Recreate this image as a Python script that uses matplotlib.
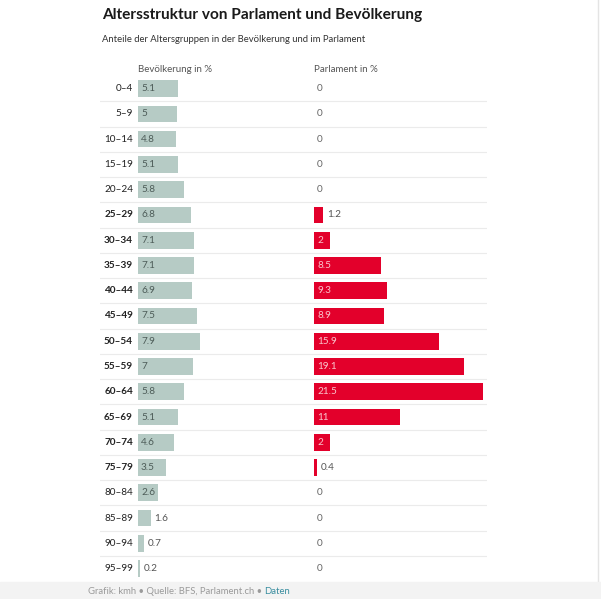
import matplotlib
matplotlib.use('Agg')
import matplotlib.pyplot as plt
from matplotlib.patches import Rectangle

plt.rcParams['font.family'] = ['Lato', 'DejaVu Sans']

# data
ages = ['0–4', '5–9', '10–14', '15–19', '20–24', '25–29', '30–34', '35–39',
        '40–44', '45–49', '50–54', '55–59', '60–64', '65–69', '70–74', '75–79',
        '80–84', '85–89', '90–94', '95–99']
bevoelkerung = [5.1, 5, 4.8, 5.1, 5.8, 6.8, 7.1, 7.1, 6.9, 7.5, 7.9, 7, 5.8,
                5.1, 4.6, 3.5, 2.6, 1.6, 0.7, 0.2]
parlament = [0, 0, 0, 0, 0, 1.2, 2, 8.5, 9.3, 8.9, 15.9, 19.1, 21.5, 11, 2,
             0.4, 0, 0, 0, 0]

W, H = 601, 599
SCALE = 7.86          # px per percent
ROW = 25.26           # px per row
TOP, N = 76, len(ages)

fig = plt.figure(figsize=(W / 100, H / 100), dpi=100)


def rect(x0, y0, w, h):
    return [x0 / W, 1 - (y0 + h) / H, w / W, h / H]


# footer band + right edge line (behind everything)
fig.patches.append(Rectangle((0, 0), 1, 17 / H, transform=fig.transFigure,
                             color='#f3f3f3', zorder=-5))
fig.lines.append(plt.Line2D([598 / W, 598 / W], [0, 1], transform=fig.transFigure,
                            color='#e4e4e4', lw=1, zorder=-5))

# row separators
grid_ax = fig.add_axes(rect(100, TOP, 387, ROW * N))
grid_ax.set_xlim(0, 1)
grid_ax.set_ylim(N - 0.5, -0.5)
grid_ax.axis('off')
for i in range(N - 1):
    grid_ax.axhline(i + 0.5, color='#ebebeb', lw=0.8)

ax1 = fig.add_axes(rect(138, TOP, 170, ROW * N))
ax2 = fig.add_axes(rect(314, TOP, 173, ROW * N))
for ax in (ax1, ax2):
    ax.set_ylim(N - 0.5, -0.5)
    ax.axis('off')
    ax.patch.set_alpha(0)
ax1.set_xlim(0, 170 / SCALE)
ax2.set_xlim(0, 173 / SCALE)

ys = list(range(N))
ax1.barh(ys, bevoelkerung, height=0.66, color='#b6cbc5')
ax2.barh(ys, parlament, height=0.66, color='#e3002b')

pad = 3 / SCALE
for i, (a, b, p) in enumerate(zip(ages, bevoelkerung, parlament)):
    bold = 5 <= i <= 15
    ax1.text(-5 / SCALE, i, a, ha='right', va='center', fontsize=7.2,
             color='#222222', fontweight='bold' if bold else 'normal')
    if b >= 2:
        ax1.text(pad, i, f'{b:g}', va='center', fontsize=7.2, color='#4d5c58')
    else:
        ax1.text(b + 4 / SCALE, i, f'{b:g}', va='center', fontsize=7.2, color='#555555')
    if p >= 2:
        ax2.text(pad, i, f'{p:g}', va='center', fontsize=7.2, color='#f9c6cd')
    elif p > 0:
        ax2.text(p + 4 / SCALE, i, f'{p:g}', va='center', fontsize=7.2, color='#555555')
    else:
        ax2.text(pad, i, '0', va='center', fontsize=7.2, color='#666666')

# headers
fig.text(138 / W, 1 - 70 / H, 'Bevölkerung in %', fontsize=7, color='#555555', va='center')
fig.text(314 / W, 1 - 70 / H, 'Parlament in %', fontsize=7, color='#555555', va='center')

# title, subtitle
fig.text(102 / W, 1 - 15 / H, 'Altersstruktur von Parlament und Bevölkerung',
         fontsize=11.1, fontweight='bold', color='#1a1a1a', va='center')
fig.text(102 / W, 1 - 40 / H, 'Anteile der Altersgruppen in der Bevölkerung und im Parlament',
         fontsize=6.8, color='#333333', va='center')

# footer
t1 = fig.text(88 / W, 1 - 592 / H, 'Grafik: kmh • Quelle: BFS, Parlament.ch • ',
              fontsize=6.8, color='#9a9a9a', va='center')
grid_ax.annotate('Daten', xy=(1, 0.5), xycoords=t1, va='center',
                 fontsize=6.8, color='#3a8ea0', annotation_clip=False,
                 clip_on=False)

fig.savefig('out.png', dpi=100)
